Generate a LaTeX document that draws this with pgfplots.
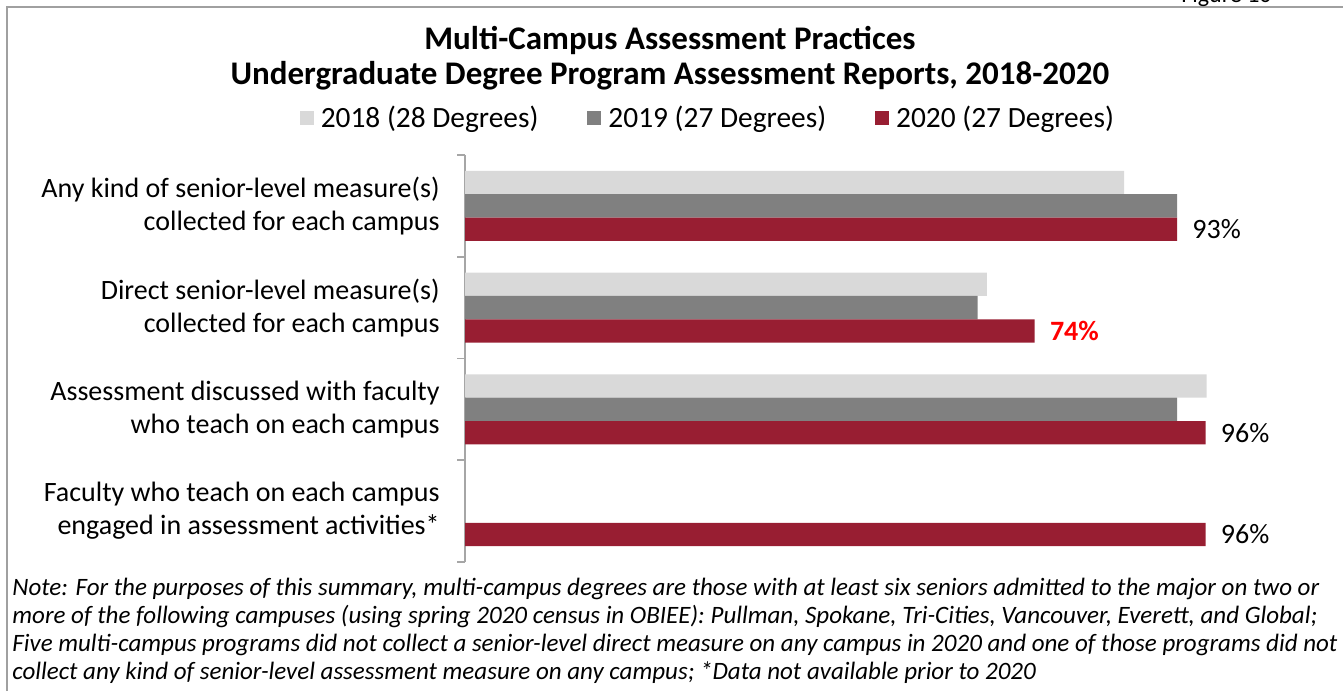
\documentclass[border=0pt]{standalone}
\usepackage{fontspec}
\setmainfont{Carlito}
\usepackage{pgfplots}
\pgfplotsset{compat=1.18}
\definecolor{c18}{HTML}{D9D9D9}
\definecolor{c19}{HTML}{808080}
\definecolor{c20}{HTML}{981E32}
\definecolor{axgray}{HTML}{A6A6A6}
\definecolor{framegray}{HTML}{A0A0A0}

\begin{document}
\begin{tikzpicture}
% reference pixels: 1 px = 0.5 pt, measured from the top-left corner
\begin{scope}[x=0.5pt,y=-0.5pt]
\useasboundingbox (0,0) rectangle (1343,691);
\draw[framegray, line width=1.2pt] (7,691) -- (7,7) -- (1343,7);
\node[anchor=base east, inner sep=0pt, font=\fontsize{12}{14}\selectfont] at (1272,2) {Figure 10};
\node[align=center, inner sep=0pt, font=\fontsize{16.5}{17.5}\selectfont\bfseries] at (670,58)
  {Multi-Campus Assessment Practices\\Undergraduate Degree Program Assessment Reports, 2018-2020};
\node[anchor=north west, align=left, inner sep=0pt, font=\fontsize{12.5}{14}\selectfont\itshape] at (12,578)
  {Note: For the purposes of this summary, multi-campus degrees are those with at least six seniors admitted to the major on two or\\
   more of the following campuses (using spring 2020 census in OBIEE): Pullman, Spokane, Tri-Cities, Vancouver, Everett, and Global;\\
   Five multi-campus programs did not collect a senior-level direct measure on any campus in 2020 and one of those programs did not\\
   collect any kind of senior-level assessment measure on any campus; *Data not available prior to 2020};
\end{scope}

\begin{axis}[
  at={(232.5pt,-281pt)}, anchor=south west,
  scale only axis, width=384.5pt, height=203.5pt,
  xmin=0, xmax=100, ymin=-0.5, ymax=3.5,
  xbar, bar width=0.23,
  axis x line=none, axis y line*=left,
  y axis line style={axgray, line width=0.8pt},
  ytick={0,1,2,3},
  yticklabels={{Faculty who teach on each campus\\engaged in assessment activities*},
               {Assessment discussed with faculty\\who teach on each campus},
               {Direct senior-level measure(s)\\collected for each campus},
               {Any kind of senior-level measure(s)\\collected for each campus}},
  major tick length=0pt,
  minor ytick={-0.5,0.5,1.5,2.5,3.5},
  minor tick length=4pt, tick align=outside,
  minor tick style={axgray, line width=0.8pt},
  yticklabel style={align=right, inner sep=0pt, xshift=-12.5pt,
                    font=\fontsize{14}{16.5}\selectfont},
  legend columns=3,
  legend style={at={(0.319,1.091)}, anchor=center, draw=none, fill=none,
                font=\fontsize{14.7}{15}\selectfont,
                nodes={inner xsep=3.5pt},
                /tikz/every even column/.append style={column sep=21pt}},
  legend image code/.code={\fill[#1] (0pt,-3.5pt) rectangle (7pt,3.5pt);},
]
\addplot[fill=c18, draw=none, bar shift=0.23]
  coordinates {(85.71,3) (67.86,2) (96.43,1)};
\addlegendentry{2018 (28 Degrees)}
\addplot[fill=c19, draw=none, bar shift=0]
  coordinates {(92.59,3) (66.67,2) (92.59,1)};
\addlegendentry{2019 (27 Degrees)}
\addplot[fill=c20, draw=none, bar shift=-0.23,
  point meta=explicit symbolic, nodes near coords,
  every node near coord/.append style={anchor=west, inner sep=0pt, xshift=7.5pt,
    font=\fontsize{14}{15}\selectfont, text=black}]
  coordinates {(92.59,3) [93\%] (74.07,2) [\textcolor{red}{\textbf{74\%}}] (96.30,1) [96\%] (96.30,0) [96\%]};
\addlegendentry{2020 (27 Degrees)}
\end{axis}
\end{tikzpicture}
\end{document}
